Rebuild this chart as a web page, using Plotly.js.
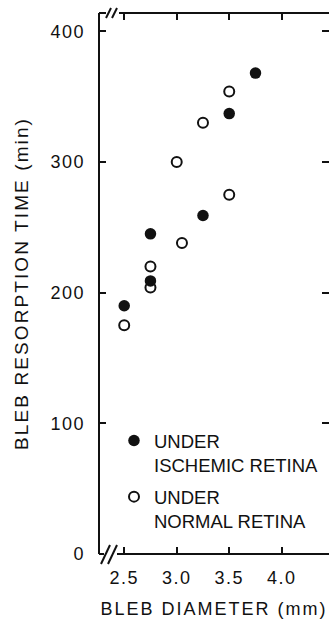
<!DOCTYPE html>
<html>
<head>
<meta charset="utf-8">
<script src="https://cdn.plot.ly/plotly-3.0.1.min.js"></script>
<style>
  html, body { margin: 0; padding: 0; background: #fff; }
  #chart { width: 329px; height: 621px; }
  .xtitle { letter-spacing: 2px; }
  .ytitle { letter-spacing: 2.1px; }
  .xtick text, .ytick text { letter-spacing: 1.5px; }
</style>
</head>
<body>
<div id="chart"></div>
<script>
// Data
const ischemicDiameter = [2.5, 2.75, 2.75, 3.25, 3.5, 3.75];
const ischemicTime     = [190, 209, 245, 259, 337, 368];
const normalDiameter   = [2.5, 2.75, 2.75, 3.0, 3.05, 3.25, 3.5, 3.5];
const normalTime       = [175, 204, 220, 300, 238, 330, 275, 354];
const xTickValues = [2.5, 3.0, 3.5, 4.0];
const xTickLabels = ['2.5', '3.0', '3.5', '4.0'];
const yTickValues = [0, 100, 200, 300, 400];
const yTickLabels = ['0', '100', '200', '300', '400'];
const ischemicName = 'UNDER<br>ISCHEMIC RETINA';
const normalName = 'UNDER<br>NORMAL RETINA';

const FONT = 'Liberation Sans, Arial, Helvetica, sans-serif';
const INK = '#111111';

// plot area in pixels (for axis-break decorations)
const W = 329, H = 621;
const L = 99, R = 0, T = 13, B = 67;
const PW = W - L - R, PH = H - T - B;
const px = v => (v - L) / PW;
const py = v => (H - B - v) / PH;
const seg = (x0, y0, x1, y1) => ({
  type: 'line', xref: 'paper', yref: 'paper',
  x0: px(x0), y0: py(y0), x1: px(x1), y1: py(y1),
  line: { color: INK, width: 2 }
});
const bottomY = H - B;

const shapes = [
  seg(L, T, L, bottomY),                 // left axis
  seg(L, bottomY, L + 5, bottomY),       // bottom stub
  seg(L + 18, bottomY, W, bottomY),      // bottom axis
  seg(L + 2, bottomY + 10, L + 11, bottomY - 9),
  seg(L + 9, bottomY + 10, L + 18, bottomY - 9),
  seg(L, T, L + 7, T),                   // top stub
  seg(L + 7, T + 5, L + 12, T - 5),
  seg(L + 13, T + 5, L + 18, T - 5),
  seg(L + 20, T, W, T)                   // top axis
];

const traces = [
  {
    x: ischemicDiameter, y: ischemicTime, name: ischemicName,
    type: 'scatter', mode: 'markers', legendgroup: 'a',
    marker: { symbol: 'circle', size: 11.5, color: INK }
  },
  {
    x: normalDiameter, y: normalTime, name: normalName,
    type: 'scatter', mode: 'markers', legendgroup: 'b',
    marker: { symbol: 'circle-open', size: 10, color: INK, line: { width: 2, color: INK } }
  }
];

const layout = {
  width: W, height: H,
  margin: { l: L, r: R, t: T, b: B, pad: 0 },
  paper_bgcolor: '#ffffff', plot_bgcolor: '#ffffff',
  font: { family: FONT, color: INK, size: 18 },
  showlegend: true,
  legend: {
    x: px(324), y: py(422), xanchor: 'right', yanchor: 'top',
    valign: 'top', tracegroupgap: 5,
    font: { family: FONT, size: 18.5, color: INK },
    bgcolor: 'rgba(0,0,0,0)', itemwidth: 30
  },
  xaxis: {
    range: [2.26, 4.45],
    tickvals: xTickValues, ticktext: xTickLabels,
    ticks: 'inside', ticklen: 7, tickwidth: 2, tickcolor: INK,
    mirror: 'ticks', showline: false, showgrid: false, zeroline: false,
    tickfont: { family: FONT, size: 18, color: INK },
    ticklabelstandoff: 11,
    automargin: false,
    title: { text: 'BLEB DIAMETER (mm)', font: { family: FONT, size: 18, color: INK }, standoff: 15 }
  },
  yaxis: {
    range: [0, 414],
    tickvals: yTickValues, ticktext: yTickLabels,
    ticks: 'inside', ticklen: 7, tickwidth: 2, tickcolor: INK,
    mirror: 'ticks', showline: false, showgrid: false, zeroline: false,
    tickfont: { family: FONT, size: 18, color: INK },
    ticklabelstandoff: 13,
    automargin: false,
    title: { text: 'BLEB RESORPTION TIME (min)', font: { family: FONT, size: 19, color: INK }, standoff: 16 }
  },
  shapes: shapes
};

Plotly.newPlot('chart', traces, layout, { displayModeBar: false, staticPlot: true });
</script>
</body>
</html>
